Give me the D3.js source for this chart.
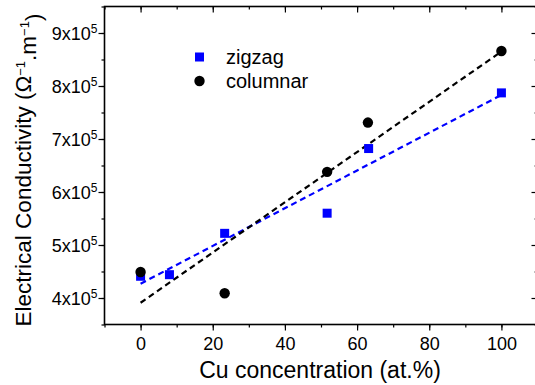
<!DOCTYPE html>
<html>
<head>
<meta charset="utf-8">
<script src="https://cdn.jsdelivr.net/npm/d3@7"></script>
<style>
  body { margin: 0; background: #fff; }
  svg { display: block; font-family: "Liberation Sans", Arial, sans-serif; }
</style>
</head>
<body>
<svg id="chart" width="535" height="385"></svg>
<script>
// data
const zigzagX = [0, 8, 23.3, 51.7, 63.2, 100];
const zigzagY = [4.41e5, 4.44e5, 5.22e5, 5.60e5, 6.82e5, 7.87e5];
const columnarX = [0, 23.3, 51.7, 63, 100];
const columnarY = [4.49e5, 4.09e5, 6.38e5, 7.31e5, 8.66e5];
// linear fit end points
const zigzagFitX = [0, 100];
const zigzagFitY = [4.27e5, 7.83e5];
const columnarFitX = [0, 100];
const columnarFitY = [3.91e5, 8.65e5];

const xTicks = [0, 20, 40, 60, 80, 100];
const yTicks = [4, 5, 6, 7, 8, 9];
const legendLabels = ["zigzag", "columnar"];

const svg = d3.select("#chart");
const mLeft = 104.5, mRight = 537.5, mTop = 6.5, mBottom = 324.5;

const x = d3.scaleLinear().domain([-10, 110]).range([mLeft, mRight]);
const y = d3.scaleLinear().domain([3.5e5, 9.5e5]).range([mBottom, mTop]);

// frame
svg.append("rect")
  .attr("x", mLeft).attr("y", mTop)
  .attr("width", mRight - mLeft).attr("height", mBottom - mTop)
  .attr("fill", "none").attr("stroke", "#000").attr("stroke-width", 1.6);

const xMinor = d3.range(-10, 111, 10);
const yMinor = d3.range(3.5e5, 9.51e5, 0.5e5);
const yMajor = yTicks.map(d => d * 1e5);

// bottom axis (ticks out)
svg.append("g")
  .attr("transform", "translate(0," + mBottom + ")")
  .call(d3.axisBottom(x).tickValues(xMinor).tickSize(3).tickFormat(""))
  .call(g => g.select(".domain").remove());
svg.append("g")
  .attr("transform", "translate(0," + mBottom + ")")
  .call(d3.axisBottom(x).tickValues(xTicks).tickSize(6).tickPadding(7))
  .call(g => g.select(".domain").remove())
  .call(g => g.selectAll("text").attr("font-size", 18).attr("font-family", "Liberation Sans, Arial"));

// top axis (ticks in)
svg.append("g")
  .attr("transform", "translate(0," + mTop + ")")
  .call(d3.axisBottom(x).tickValues(xMinor).tickSize(3).tickFormat(""))
  .call(g => g.select(".domain").remove());
svg.append("g")
  .attr("transform", "translate(0," + mTop + ")")
  .call(d3.axisBottom(x).tickValues(xTicks).tickSize(6).tickFormat(""))
  .call(g => g.select(".domain").remove());

// left axis (ticks out)
svg.append("g")
  .attr("transform", "translate(" + mLeft + ",0)")
  .call(d3.axisLeft(y).tickValues(yMinor).tickSize(3).tickFormat(""))
  .call(g => g.select(".domain").remove());
const yAxis = svg.append("g")
  .attr("transform", "translate(" + mLeft + ",0)")
  .call(d3.axisLeft(y).tickValues(yMajor).tickSize(6).tickFormat(""))
  .call(g => g.select(".domain").remove());
yAxis.selectAll(".tick").append("text")
  .attr("x", -7).attr("dy", "0.35em")
  .attr("text-anchor", "end").attr("fill", "#000")
  .attr("font-size", 18)
  .each(function(d) {
    const t = d3.select(this);
    t.append("tspan").text((d / 1e5) + "x10");
    t.append("tspan").attr("dy", "-0.55em").attr("font-size", 12).text("5");
  });

// right axis (ticks in)
svg.append("g")
  .attr("transform", "translate(" + mRight + ",0)")
  .call(d3.axisLeft(y).tickValues(yMinor).tickSize(3).tickFormat(""))
  .call(g => g.select(".domain").remove());
svg.append("g")
  .attr("transform", "translate(" + mRight + ",0)")
  .call(d3.axisLeft(y).tickValues(yMajor).tickSize(6).tickFormat(""))
  .call(g => g.select(".domain").remove());

svg.selectAll(".tick line").attr("stroke-width", 1.2);

// fit lines
const line = d3.line().x(d => x(d[0])).y(d => y(d[1]));
svg.append("path")
  .datum(zigzagFitX.map((v, i) => [v, zigzagFitY[i]]))
  .attr("d", line).attr("fill", "none")
  .attr("stroke", "#0000ff").attr("stroke-width", 2.2).attr("stroke-dasharray", "6,4");
svg.append("path")
  .datum(columnarFitX.map((v, i) => [v, columnarFitY[i]]))
  .attr("d", line).attr("fill", "none")
  .attr("stroke", "#000").attr("stroke-width", 2.2).attr("stroke-dasharray", "6,4");

// points
svg.selectAll("rect.zig")
  .data(zigzagX.map((v, i) => [v, zigzagY[i]]))
  .enter().append("rect").attr("class", "zig")
  .attr("x", d => x(d[0]) - 4.5).attr("y", d => y(d[1]) - 4.5)
  .attr("width", 9).attr("height", 9).attr("fill", "#0000ff");
svg.selectAll("circle.col")
  .data(columnarX.map((v, i) => [v, columnarY[i]]))
  .enter().append("circle").attr("class", "col")
  .attr("cx", d => x(d[0])).attr("cy", d => y(d[1]))
  .attr("r", 5.2).attr("fill", "#000");

// legend
svg.append("rect").attr("x", 195).attr("y", 52.5).attr("width", 9).attr("height", 9).attr("fill", "#0000ff");
svg.append("circle").attr("cx", 199.5).attr("cy", 81).attr("r", 5.2).attr("fill", "#000");
svg.selectAll("text.leg")
  .data(legendLabels)
  .enter().append("text").attr("class", "leg")
  .attr("x", 226).attr("y", (d, i) => 57 + i * 24).attr("dy", "0.35em")
  .attr("font-size", 20).text(d => d);

// axis titles
svg.append("text")
  .attr("x", 320).attr("y", 378)
  .attr("text-anchor", "middle").attr("font-size", 23)
  .text("Cu concentration (at.%)");

const yt = svg.append("text")
  .attr("transform", "translate(31,170) rotate(-90)")
  .attr("text-anchor", "middle").attr("font-size", 22.5);
yt.append("tspan").text("Electrical Conductivity (Ω");
yt.append("tspan").attr("dy", "-0.5em").attr("font-size", 13).text("−1");
yt.append("tspan").attr("dy", "0.5em").text(".m");
yt.append("tspan").attr("dy", "-0.5em").attr("font-size", 13).text("−1");
yt.append("tspan").attr("dy", "0.5em").text(")");
</script>
</body>
</html>
